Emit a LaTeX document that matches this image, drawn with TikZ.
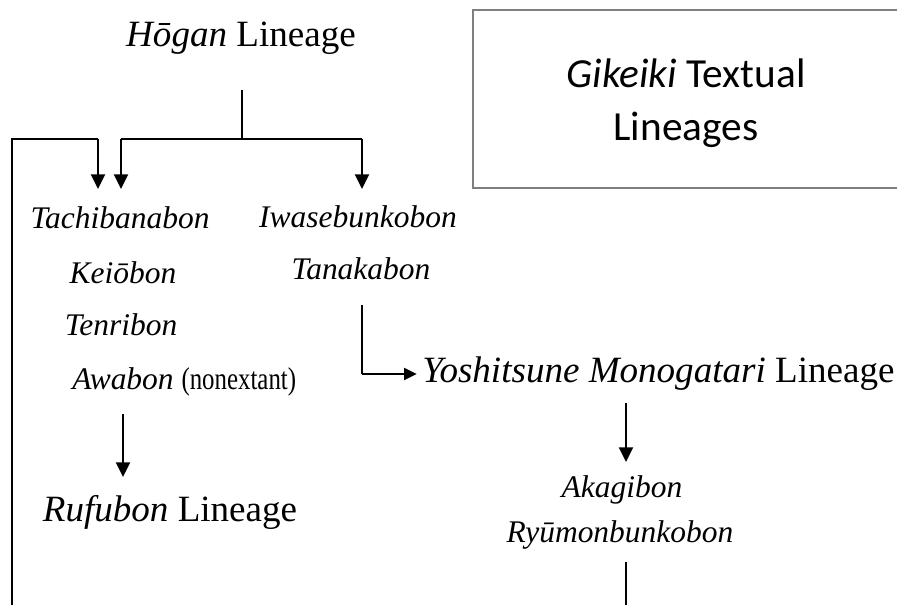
\documentclass[tikz,border=0pt]{standalone}
\usepackage{fontspec}
\usepackage{graphicx}
\setmainfont{Liberation Serif}
\newfontfamily\calibrifont{Carlito}
\usetikzlibrary{arrows.meta}
\definecolor{boxgray}{RGB}{127,127,127}

\begin{document}
\begin{tikzpicture}[x=0.75pt,y=-0.75pt,
  lineage/.style={inner sep=0pt,anchor=base,font=\fontsize{27.8}{33}\selectfont},
  witness/.style={inner sep=0pt,anchor=base,font=\fontsize{23.6}{28}\selectfont\itshape},
  titlebox/.style={draw=boxgray,line width=1.5pt,minimum width=319.5pt,minimum height=133pt},
  link/.style={line width=0.9pt},
  arrow/.style={-{Triangle[length=11pt,width=10.5pt]},line width=1.5pt},
  sidearrow/.style={-{Triangle[length=9.5pt,width=9pt]},line width=1.4pt}]

\useasboundingbox (0,0) rectangle (897,605);
\clip (0,0) rectangle (897,605);

% title
\node[titlebox] (frame) at (686,99) {};
\node[align=center,inner sep=0pt,font=\calibrifont\fontsize{31}{39.8}\selectfont]
  (title) at (686,103) {\textit{Gikeiki} Textual\\Lineages};

% lineages and texts
\node[lineage] (hogan) at (241,47) {\textit{Hōgan} Lineage};
\node[witness] (tachi) at (120,229) {Tachibanabon};
\node[witness] (keio) at (123,284) {Keiōbon};
\node[witness] (tenri) at (121,336) {Tenribon};
\node[witness,anchor=base west] (awa) at (72,390)
  {Awabon \upshape\scalebox{0.79}[1]{(nonextant)}};
\node[witness] (iwase) at (358,228) {Iwasebunkobon};
\node[witness] (tanaka) at (361,280) {Tanakabon};
\node[lineage,anchor=base west] (yoshi) at (422,383)
  {\textit{Yoshitsune Monogatari} Lineage};
\node[lineage] (rufu) at (170,522) {\textit{Rufubon} Lineage};
\node[witness] (akagi) at (622,498) {Akagibon};
\node[witness] (ryumon) at (620,543) {Ryūmonbunkobon};

% connector ends
\coordinate (stem) at (242,90);
\coordinate (fork) at (242,139);
\coordinate (tachitip) at (121,189);
\coordinate (iwasetip) at (362,189);
\coordinate (backfoot) at (12,620);
\coordinate (backtip) at (98,189);
\coordinate (bendtop) at (362,305);
\coordinate (bend) at (362,374);
\coordinate (awafoot) at (123,414);
\coordinate (rufutip) at (123,477);
\coordinate (yoshifoot) at (626,403);
\coordinate (akagitip) at (626,462);
\coordinate (ryumonfoot) at (626,562);
\coordinate (pageend) at (626,620);

\draw[link] (stem) -- (fork);
\draw[link] (tachitip |- fork) -- (iwasetip |- fork);
\draw[arrow] (tachitip |- fork) -- (tachitip);
\draw[arrow] (iwasetip |- fork) -- (iwasetip);
\draw[link] (backfoot) |- (backtip |- fork);
\draw[arrow] (backtip |- fork) -- (backtip);
\draw[link] (bendtop) -- (bend);
\draw[sidearrow,shorten >=4pt] (bend) -- (bend -| yoshi.west);
\draw[arrow] (awafoot) -- (rufutip);
\draw[arrow] (yoshifoot) -- (akagitip);
\draw[link] (ryumonfoot) -- (pageend);
\end{tikzpicture}
\end{document}
